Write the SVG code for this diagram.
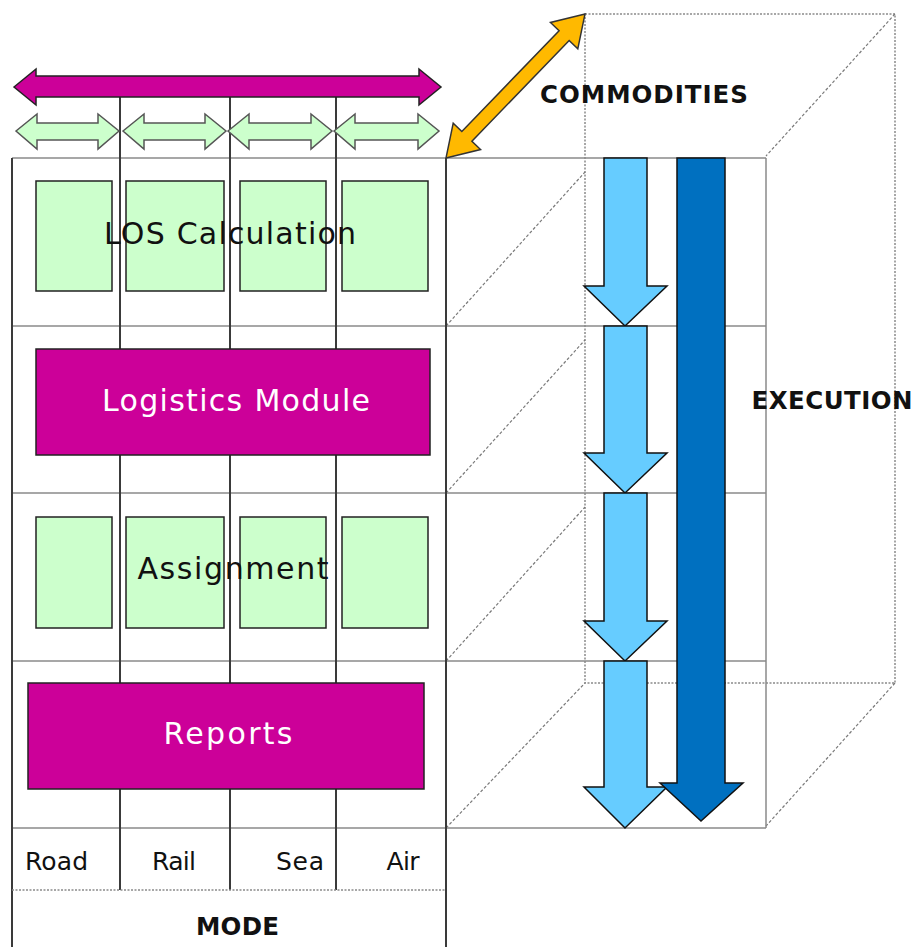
<svg xmlns="http://www.w3.org/2000/svg" width="917" height="947" viewBox="0 0 917 947">
<style>
.g{stroke:#8a8a8a;stroke-width:1.5;fill:none}
.v{stroke:#3a3a3a;stroke-width:2;fill:none}
.d{stroke:#8a8a8a;stroke-width:1.5;fill:none;stroke-dasharray:2 1.5}
.dg{stroke:#7a7a7a;stroke-width:1.2;fill:none;stroke-dasharray:3 2}
.box{fill:#CCFFCC;stroke:#222;stroke-width:1.5}
.mag{fill:#CC0099;stroke:#222;stroke-width:1.5}
.ga{fill:#CCFFCC;stroke:#555;stroke-width:1.5}
.lb{fill:#66CCFF;stroke:#111;stroke-width:1.5}
.db{fill:#0070C0;stroke:#111;stroke-width:1.5}
.t{font-family:"DejaVu Sans",Verdana,sans-serif;fill:#111}
.big{font-size:30px;text-anchor:middle}
.w{fill:#fff}
.sm{font-size:25px;text-anchor:middle}
.b{font-weight:bold;font-size:24.5px;text-anchor:middle}
</style>
<rect width="917" height="947" fill="#fff"/>
<g id="connectors">
<path class="d" d="M585,14 H895 V683 H585 Z"/>
<path class="dg" d="M895,14 L766,156 M895,683 L766,826 M446,326 L585,172 M446,493 L585,340 M446,661 L585,507 M446,828 L585,683"/>
<path class="g" d="M12,158 H766 M12,326 H766 M12,493 H766 M12,661 H766 M12,828 H766 M766,158 V828"/>
<path class="v" d="M12,158 V947 M446,158 V947 M120,96 V890 M230,96 V890 M336,96 V890"/>
<path class="d" d="M12,890 H446"/>
</g>
<g id="mode-arrow"><path class="mag" d="M14,87 L36,69 L36,76 L419,76 L419,69 L441,87 L419,105 L419,97 L36,97 L36,105 Z"/></g>
<g id="mode-arrows-small">
<path class="ga" d="M16,131 L37,114 L37,123 L98,123 L98,114 L119,131 L98,149 L98,140 L37,140 L37,149 Z"/>
<path class="ga" d="M123,131 L144,114 L144,123 L205,123 L205,114 L226,131 L205,149 L205,140 L144,140 L144,149 Z"/>
<path class="ga" d="M228,131 L249,114 L249,123 L311,123 L311,114 L332,131 L311,149 L311,140 L249,140 L249,149 Z"/>
<path class="ga" d="M334,131 L355,114 L355,123 L418,123 L418,114 L439,131 L418,149 L418,140 L355,140 L355,149 Z"/>
</g>
<g id="commodities-arrow" transform="translate(515.5,86) rotate(-46)">
<path fill="#FFB900" stroke="#333" stroke-width="1.5" d="M-100,0 L-70,-19 L-70,-7 L70,-7 L70,-19 L100,0 L70,19 L70,7 L-70,7 L-70,19 Z"/>
</g>
<g id="los-calculation">
<rect class="box" x="36" y="181" width="76" height="110"/>
<rect class="box" x="126" y="181" width="98" height="110"/>
<rect class="box" x="240" y="181" width="86" height="110"/>
<rect class="box" x="342" y="181" width="86" height="110"/>
<text class="t big" x="230" y="244" textLength="252">LOS Calculation</text>
</g>
<g id="logistics-module">
<rect class="mag" x="36" y="349" width="394" height="106"/>
<text class="t big w" x="236" y="411" textLength="268">Logistics Module</text>
</g>
<g id="assignment">
<rect class="box" x="36" y="517" width="76" height="111"/>
<rect class="box" x="126" y="517" width="98" height="111"/>
<rect class="box" x="240" y="517" width="86" height="111"/>
<rect class="box" x="342" y="517" width="86" height="111"/>
<text class="t big" x="233" y="579" textLength="191">Assignment</text>
</g>
<g id="reports">
<rect class="mag" x="28" y="683" width="396" height="106"/>
<text class="t big w" x="228" y="744" textLength="129">Reports</text>
</g>
<g id="execution-arrows">
<path class="lb" d="M604,158 L647,158 L647,286 L667,286 L625,326 L584,286 L604,286 Z"/>
<path class="lb" d="M604,326 L647,326 L647,453 L667,453 L625,493 L584,453 L604,453 Z"/>
<path class="lb" d="M604,493 L647,493 L647,621 L667,621 L625,661 L584,621 L604,621 Z"/>
<path class="lb" d="M604,661 L647,661 L647,787 L667,787 L625,828 L584,787 L604,787 Z"/>
<path class="db" d="M677,158 L725,158 L725,783 L743,783 L701,821 L660,783 L677,783 Z"/>
</g>
<g id="labels">
<text class="t sm" x="56.5" y="870" textLength="63">Road</text>
<text class="t sm" x="174" y="870" textLength="44">Rail</text>
<text class="t sm" x="300" y="870" textLength="48">Sea</text>
<text class="t sm" x="403" y="870" textLength="33">Air</text>
<text class="t b" x="237.5" y="935" textLength="83">MODE</text>
<text class="t b" x="644" y="103" textLength="208">COMMODITIES</text>
<text class="t b" x="832" y="409" textLength="161">EXECUTION</text>
</g>
</svg>
